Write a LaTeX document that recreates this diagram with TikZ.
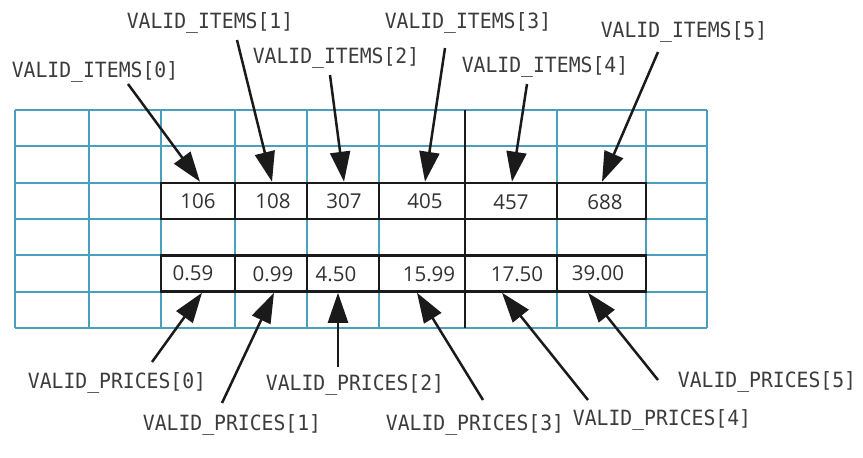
\documentclass[tikz,border=0pt]{standalone}
\usepackage{fontspec}
\usetikzlibrary{arrows.meta,calc}
\newfontfamily\lblfont[FakeStretch=0.94]{DejaVu Sans Mono}
\newfontfamily\numfont{Open Sans}
\definecolor{gridteal}{HTML}{4A9FBF}
\definecolor{ink}{HTML}{1A1A1A}
\tikzset{
  lbl/.style={font=\lblfont\fontsize{21}{21}\selectfont, text=ink!85, inner sep=0pt},
  cell/.style={draw=ink, line width=2.5pt, minimum height=36pt, inner sep=0pt},
  num/.style={font=\numfont\fontsize{20.5}{20.5}\selectfont, text=ink!90, inner sep=0pt},
  ptr/.style={draw=ink, line width=2.5pt, -{Triangle[length=30pt,width=20pt]}},
  gridline/.style={draw=gridteal, line width=1.5pt}
}
\begin{document}
\begin{tikzpicture}[x=1pt,y=-1pt]
\useasboundingbox (0,0) rectangle (863,458);
% grid
\foreach \gx in {15,89,161,235,307,379,557,646,707}
  \draw[gridline] (\gx,110) -- (\gx,328);
\foreach \gy in {110,146,183,219,255,292,328}
  \draw[gridline] (15,\gy) -- (707,\gy);
\draw[ink, line width=1.2pt] (465,110) -- (465,328);
% item cells
\node[cell, minimum width=74pt] (c0) at (198,201) {};
\node[cell, minimum width=72pt] (c1) at (271,201) {};
\node[cell, minimum width=72pt] (c2) at (343,201) {};
\node[cell, minimum width=86pt] (c3) at (422,201) {};
\node[cell, minimum width=92pt] (c4) at (511,201) {};
\node[cell, minimum width=89pt] (c5) at (601.5,201) {};
% price cells
\node[cell, minimum width=74pt] (p0) at (198,273.5) {};
\node[cell, minimum width=72pt] (p1) at (271,273.5) {};
\node[cell, minimum width=72pt] (p2) at (343,273.5) {};
\node[cell, minimum width=86pt] (p3) at (422,273.5) {};
\node[cell, minimum width=92pt] (p4) at (511,273.5) {};
\node[cell, minimum width=89pt] (p5) at (601.5,273.5) {};
% cell texts
\node[num] (n0) at (198,201) {106};
\node[num] (n1) at (273,201) {108};
\node[num] (n2) at (344,201) {307};
\node[num] (n3) at (425,201) {405};
\node[num] (n4) at (511,202) {457};
\node[num] (n5) at (605,202) {688};
\node[num] (m0) at (193,273) {0.59};
\node[num] (m1) at (273,274) {0.99};
\node[num] (m2) at (336,274) {4.50};
\node[num] (m3) at (429,274) {15.99};
\node[num] (m4) at (517,274) {17.50};
\node[num] (m5) at (598,273) {39.00};
% top labels
\node[lbl] (l0) at (95,72) {VALID\_ITEMS[0]};
\node[lbl] (l1) at (210,23) {VALID\_ITEMS[1]};
\node[lbl] (l2) at (336,58) {VALID\_ITEMS[2]};
\node[lbl] (l3) at (468,23) {VALID\_ITEMS[3]};
\node[lbl] (l4) at (545,67) {VALID\_ITEMS[4]};
\node[lbl] (l5) at (684,32) {VALID\_ITEMS[5]};
% bottom labels
\node[lbl] (b0) at (117,383) {VALID\_PRICES[0]};
\node[lbl] (b1) at (232,425) {VALID\_PRICES[1]};
\node[lbl] (b2) at (355,385) {VALID\_PRICES[2]};
\node[lbl] (b3) at (475,425) {VALID\_PRICES[3]};
\node[lbl] (b4) at (662,420) {VALID\_PRICES[4]};
\node[lbl] (b5) at (767,382) {VALID\_PRICES[5]};
% arrow tails
\coordinate (t0) at (128,84);
\coordinate (t1) at (237,40);
\coordinate (t2) at (330,75);
\coordinate (t3) at (445,48);
\coordinate (t4) at (527,84);
\coordinate (t5) at (658,52);
\coordinate (s0) at (152,362);
\coordinate (s1) at (222,403);
\coordinate (s2) at (338,367);
\coordinate (s3) at (483,400);
\coordinate (s4) at (588,400);
\coordinate (s5) at (658,380);
% arrows
\draw[ptr] (t0) -- ($(c0.north)+(2,0)$);
\draw[ptr] (t1) -- ($(c1.north)+(1,0)$);
\draw[ptr] (t2) -- ($(c2.north)+(1,0)$);
\draw[ptr] (t3) -- ($(c3.north)+(3,0)$);
\draw[ptr] (t4) -- ($(c4.north)+(1,0)$);
\draw[ptr] (t5) -- ($(c5.north)+(0.5,0)$);
\draw[ptr] (s0) -- ($(p0.south)+(4,0)$);
\draw[ptr] (s1) -- ($(p1.south)+(3,0)$);
\draw[ptr] (s2) -- ($(p2.south)+(-5,0)$);
\draw[ptr] (s3) -- ($(p3.south)+(-5,0)$);
\draw[ptr] (s4) -- ($(p4.south)+(-9,0)$);
\draw[ptr] (s5) -- ($(p5.south)+(-13.5,0)$);
\end{tikzpicture}
\end{document}
